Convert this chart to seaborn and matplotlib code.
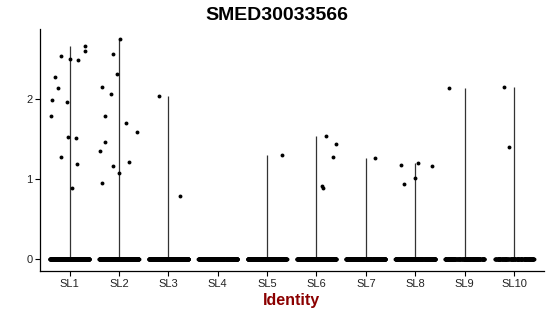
import numpy as np
import pandas as pd
import matplotlib
matplotlib.use("Agg")
import matplotlib.pyplot as plt
import seaborn as sns

# ---- data ----
categories = ["SL1", "SL2", "SL3", "SL4", "SL5", "SL6", "SL7", "SL8", "SL9", "SL10"]
nonzero_values = {
    "SL1": [0.89, 2.49, 2.54, 2.51, 2.67, 2.60, 2.28, 2.14, 1.99, 1.97, 1.79, 1.53, 1.52, 1.28, 1.19],
    "SL2": [2.75, 2.57, 2.32, 2.15, 2.07, 1.79, 1.71, 1.59, 1.47, 1.35, 1.22, 1.17, 1.08, 0.95],
    "SL3": [2.04, 0.79],
    "SL4": [],
    "SL5": [1.30],
    "SL6": [1.54, 1.44, 1.28, 0.89, 0.92],
    "SL7": [1.27],
    "SL8": [0.94, 1.02, 1.20, 1.17, 1.18],
    "SL9": [2.14],
    "SL10": [2.16, 1.40],
}
zero_counts = [400, 400, 400, 300, 300, 300, 300, 300, 200, 150]
title = "SMED30033566"
xlabel = "Identity"
yticks = [0, 1, 2]

rows = []
for cat, nz in zip(categories, zero_counts):
    for v in nonzero_values[cat]:
        rows.append((cat, v))
    for _ in range(nz):
        rows.append((cat, 0.0))
df = pd.DataFrame(rows, columns=["Identity", "expr"])

sns.set_theme(style="white")
plt.rcParams["font.family"] = ["Liberation Sans", "DejaVu Sans"]

fig = plt.figure(figsize=(5.5, 3.16), dpi=100)
ax = fig.add_axes([40 / 550, 1 - 271 / 316, 503.6 / 550, (271 - 29) / 316])

# violin outlines (trimmed, essentially zero width) -> vertical lines from min to max
stats = df.groupby("Identity")["expr"].agg(["min", "max"]).reindex(categories)
for i, cat in enumerate(categories):
    lo, hi = stats.loc[cat, "min"], stats.loc[cat, "max"]
    if hi > lo:
        ax.vlines(i, lo, hi, color="#333333", lw=0.9, zorder=1)

np.random.seed(3)
sns.stripplot(data=df, x="Identity", y="expr", order=categories, color="black",
              jitter=0.4, size=2.8, linewidth=0, ax=ax, zorder=3)

ax.set_xlim(-0.6, len(categories) - 0.4)
ax.set_ylim(-0.146, 2.88)
ax.set_yticks(yticks)
ax.set_yticklabels([str(t) for t in yticks])

for s in ["top", "right"]:
    ax.spines[s].set_visible(False)
for s in ["left", "bottom"]:
    ax.spines[s].set_color("black")
    ax.spines[s].set_linewidth(0.9)

ax.tick_params(axis="both", which="both", length=3.5, width=0.8, color="black",
               labelsize=8, labelcolor="#222222", pad=2, bottom=True, left=True)
ax.set_xlabel(xlabel, fontsize=11.5, fontweight="bold", color="#8B0000", labelpad=3)
ax.set_ylabel("")
fig.text(277 / 550, 1 - 16 / 316, title, ha="center", va="center",
         fontsize=14, fontweight="bold", color="black")

fig.savefig("out.png", dpi=100)
